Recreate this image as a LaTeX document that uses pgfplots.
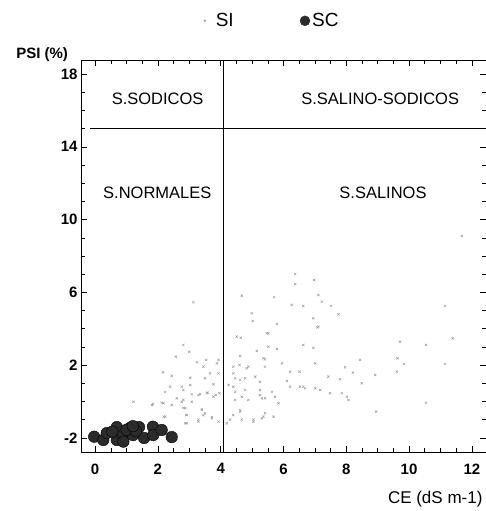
\documentclass[border=0pt]{standalone}
\usepackage{fontspec}
\setmainfont{Liberation Sans}
\usepackage{pgfplots}
\pgfplotsset{compat=1.18}
\definecolor{sigray}{HTML}{A0A0A0}
\definecolor{scdark}{HTML}{2B2B2B}

\begin{document}
\begin{tikzpicture}
\begin{axis}[
    scale only axis,
    width=405pt, height=392pt,
    xmin=-0.45, xmax=12.45,
    ymin=-2.77, ymax=18.77,
    xtick={0,2,...,12},
    ytick={-2,2,6,10,14,18},
    minor x tick num=3,
    minor y tick num=3,
    tick align=inside,
    major tick length=6pt,
    minor tick length=4pt,
    axis line style={black, line width=0.9pt},
    tick style={black, line width=0.6pt},
    /pgf/number format/assume math mode=true,
    ticklabel style={font=\fontsize{15}{15}\selectfont\bfseries},
    xticklabel style={yshift=-8pt},
    xlabel={CE (dS m-1)},
    xlabel style={at={(rel axis cs:1,-0.12)}, anchor=east,
        font=\fontsize{17}{17}\selectfont},
    ylabel={\bfseries PSI (\%)},
    ylabel style={rotate=-90, at={(rel axis cs:-0.096,1.013)}, anchor=center,
        font=\fontsize{15}{15}\selectfont},
    legend columns=2,
    legend style={draw=none, fill=none, at={(rel axis cs:0.295,1.1)}, anchor=west,
        font=\fontsize{19}{19}\selectfont,
        /tikz/every even column/.append style={column sep=64pt}},
]
\addplot[only marks, mark=x, mark size=1.6pt, draw=sigray, line width=0.5pt,
    legend image code/.code={\fill[sigray] (0cm,0cm) circle (0.9pt);
        \path[draw=none, fill=none] (0pt,0pt) -- (9pt,0pt);}]
  coordinates {
  (3.13,5.46) (4.67,5.82) (5.70,5.73) (6.37,7.01) (6.37,6.45) (6.97,6.68)
  (7.11,5.86) (6.26,5.31) (6.63,5.25) (7.75,4.80) (4.99,4.85) (5.02,4.43)
  (5.79,4.26) (7.11,4.12) (4.64,3.51) (5.47,3.75) (2.81,3.11) (3.00,2.74)
  (2.57,2.47) (5.52,3.02) (5.79,2.89) (6.63,3.11) (6.95,2.95) (4.62,2.51)
  (5.15,2.78) (5.41,2.32) (3.24,2.16) (3.54,2.29) (3.93,2.29) (3.45,1.92)
  (3.66,1.55) (3.93,1.55) (4.40,1.92) (4.60,2.01) (4.83,1.83) (5.41,1.92)
  (5.95,2.10) (6.21,1.64) (6.51,1.64) (7.01,2.10) (7.96,1.88) (2.16,1.61)
  (2.44,1.42) (3.03,1.31) (3.50,1.28) (3.77,0.95) (4.25,0.91) (4.46,1.28)
  (4.62,1.19) (4.78,1.28) (5.25,1.09) (6.11,1.13) (6.21,0.82) (6.63,0.82)
  (7.01,0.73) (7.48,0.46) (7.86,0.46) (8.02,0.27) (2.23,0.54) (2.39,0.82)
  (2.76,0.82) (3.03,0.91) (3.08,0.40) (3.29,0.36) (3.56,0.46) (3.77,0.27)
  (3.96,0.46) (4.46,0.54) (4.67,0.27) (5.25,0.36) (5.41,0.18) (5.73,0.27)
  (5.84,-0.09) (2.60,0.18) (2.81,0.09) (2.18,-0.09) (2.44,-0.19) (1.84,-0.13)
  (2.87,-0.37) (3.40,-0.46) (3.45,-0.74) (2.92,-0.74) (2.18,-0.83) (2.87,-1.19)
  (3.29,-1.10) (3.72,-0.92) (3.93,-1.10) (4.19,-1.19) (4.62,-0.55) (5.04,-1.10)
  (5.36,-0.83) (5.41,-0.64) (11.68,9.10) (7.22,5.49) (7.51,5.25) (6.95,4.58)
  (7.08,4.08) (11.15,5.25) (9.71,3.29) (10.54,3.11) (11.39,3.48) (8.44,2.29)
  (8.21,1.59) (9.63,2.38) (9.84,2.07) (9.61,1.64) (11.15,2.07) (8.92,1.46)
  (7.43,1.37) (7.80,1.23) (8.49,1.01) (6.53,0.82) (6.69,0.73) (7.17,0.64)
  (8.07,0.09) (10.54,-0.06) (8.95,-0.55) (2.81,0.64) (3.34,0.40) (3.58,0.49)
  (3.84,0.36) (2.12,-0.06) (2.76,-0.01) (3.08,-0.01) (2.81,-0.34) (1.81,-0.19)
  (1.22,-0.01) (3.40,-0.42) (3.50,-0.64) (2.90,-0.74) (2.23,-0.83) (2.92,-1.19)
  (3.29,-0.99) (3.72,-0.85) (4.30,-0.99) (4.40,-0.74) (4.67,-0.99) (5.04,-0.99)
  (5.31,-0.92) (5.68,-0.83) (4.51,3.57) (5.52,3.75) (5.36,2.38) (4.88,1.92)
  (5.10,1.37) (4.40,1.55) (4.78,0.64) (4.40,0.82) (5.25,0.64) (5.31,0.18)
  (5.63,0.54) (4.46,0.09) (4.88,0.09) (4.62,-0.46) (3.88,2.10)
  };
\addlegendentry{SI}
\addplot[only marks, mark=*, mark size=5.8pt, draw=black, fill=scdark,
    legend image code/.code={\fill[scdark] (0cm,0cm) circle (5pt);}]
  coordinates {
  (-0.03,-1.93) (0.26,-2.11) (0.37,-1.73) (0.69,-1.40) (0.69,-2.11)
  (0.88,-1.84) (0.90,-2.20) (1.11,-1.45) (1.21,-1.84) (1.40,-1.40)
  (1.56,-2.00) (1.84,-1.38) (1.85,-1.84) (2.12,-1.56) (2.44,-1.95)
  (1.00,-1.55) (1.30,-1.62) (0.55,-1.65) (1.20,-1.35)
  };
\addlegendentry{SC}
\addplot[black, line width=1pt, forget plot] coordinates {(4.1,-2.77) (4.1,18.77)};
\addplot[black, line width=1pt, forget plot] coordinates {(-0.16,15) (12.45,15)};
\node[font=\fontsize{16.5}{16.5}\selectfont] at (axis cs:1.99,16.63) {S.SODICOS};
\node[font=\fontsize{16.5}{16.5}\selectfont] at (axis cs:9.08,16.63) {S.SALINO-SODICOS};
\node[font=\fontsize{16.5}{16.5}\selectfont] at (axis cs:1.98,11.46) {S.NORMALES};
\node[font=\fontsize{16.5}{16.5}\selectfont] at (axis cs:9.17,11.46) {S.SALINOS};
\end{axis}
\pgfresetboundingbox
\path[use as bounding box] ([shift={(-81pt,-59pt)}]current axis.south west)
  rectangle ([shift={(0pt,60pt)}]current axis.north east);
\end{tikzpicture}
\end{document}
